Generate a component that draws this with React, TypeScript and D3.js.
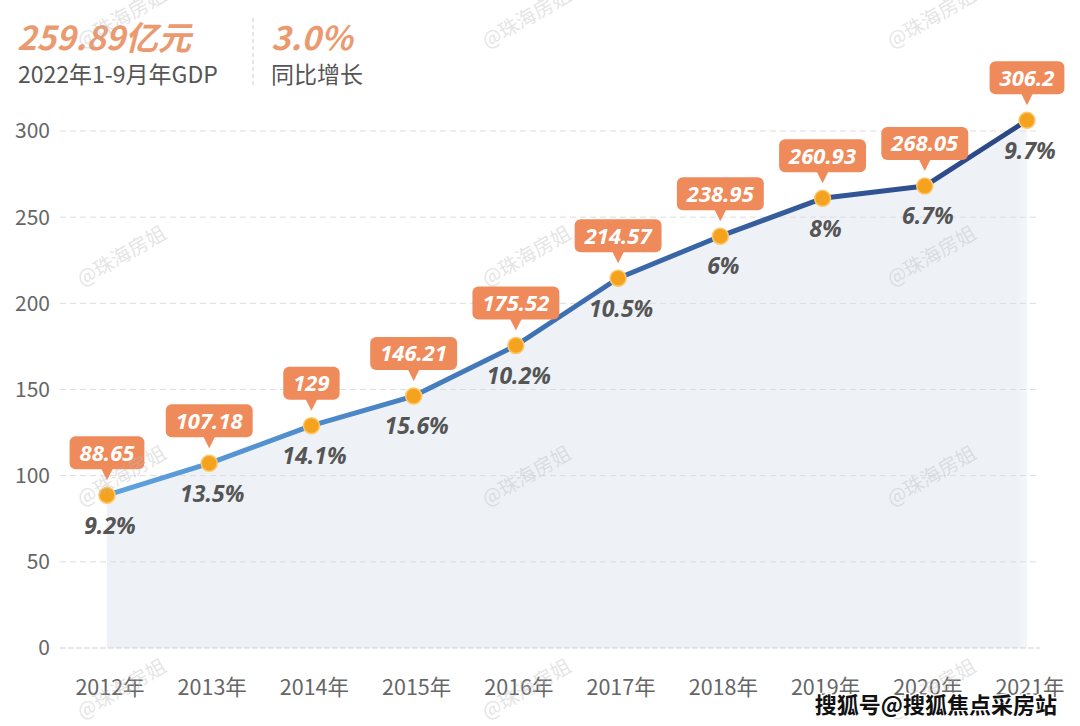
import React from "react";
import * as d3 from "d3";

const years = ["2012年", "2013年", "2014年", "2015年", "2016年", "2017年", "2018年", "2019年", "2020年", "2021年"];
const gdp = [88.65, 107.18, 129, 146.21, 175.52, 214.57, 238.95, 260.93, 268.05, 306.2];
const growth = ["9.2%", "13.5%", "14.1%", "15.6%", "10.2%", "10.5%", "6%", "8%", "6.7%", "9.7%"];
const yTicks = [0, 50, 100, 150, 200, 250, 300];
const watermarkX = [125, 530, 935];
const watermarkY = [24, 262, 482, 695];

const numFont = '"Noto Sans", "Open Sans", sans-serif';
const cjkFont = '"Noto Sans CJK SC", "Noto Sans", sans-serif';

// measure label text so the orange boxes fit their numbers
const measure = (() => {
  const ctx = document.createElement("canvas").getContext("2d");
  return (s: string) => {
    if (!ctx) return s.length * 13;
    ctx.font = `italic bold 22px ${numFont}`;
    return ctx.measureText(s).width;
  };
})();

const App = () => {
  const width = 1080;
  const height = 726;
  const margin = { left: 60, right: 40 };

  const x = d3.scalePoint().domain(years).range([107, 1027]);
  const y = d3.scaleLinear().domain([0, 300]).range([648, 131]);

  const data = years.map((yr, i) => ({ yr, v: gdp[i], g: growth[i] }));

  const line = d3
    .line<{ yr: string; v: number }>()
    .x((d) => x(d.yr)!)
    .y((d) => y(d.v));
  const area = d3
    .area<{ yr: string; v: number }>()
    .x((d) => x(d.yr)!)
    .y0(y(0))
    .y1((d) => y(d.v));

  return (
    <svg
      width={width}
      height={height}
      style={{ position: "absolute", left: 0, top: 0, background: "#fff" }}
    >
      <defs>
        <linearGradient id="lineGrad" gradientUnits="userSpaceOnUse" x1={107} x2={1027} y1={0} y2={0}>
          <stop offset="0" stopColor="#5fa3de" />
          <stop offset="0.45" stopColor="#3f73b6" />
          <stop offset="1" stopColor="#2b4584" />
        </linearGradient>
        <linearGradient id="areaGrad" gradientUnits="userSpaceOnUse" x1={107} x2={1045} y1={0} y2={0}>
          <stop offset="0" stopColor="#eef2f7" />
          <stop offset="0.97" stopColor="#eef2f7" />
          <stop offset="1" stopColor="#eef2f7" stopOpacity="0" />
        </linearGradient>
      </defs>

      {/* header */}
      <text x={17} y={50} fill="#eb9a70" fontSize={33} fontWeight="bold" fontStyle="italic" fontFamily={cjkFont}>
        259.89亿元
      </text>
      <text x={18} y={83} fill="#555" fontSize={23} fontFamily={cjkFont}>
        2022年1-9月年GDP
      </text>
      <line x1={253} x2={253} y1={18} y2={88} stroke="#ccc" strokeDasharray="4,3" />
      <text x={271} y={50} fill="#eb9a70" fontSize={33} fontWeight="bold" fontStyle="italic" fontFamily={cjkFont}>
        3.0%
      </text>
      <text x={271} y={83} fill="#555" fontSize={23} fontFamily={cjkFont}>
        同比增长
      </text>

      {/* area */}
      <path d={area(data)!} fill="url(#areaGrad)" />

      {/* grid + y axis */}
      {yTicks.map((t) => (
        <g key={t}>
          <line
            x1={margin.left}
            x2={width - margin.right}
            y1={y(t)}
            y2={y(t)}
            stroke={t === 0 ? "#cfcfcf" : "#dcdcdc"}
            strokeDasharray={t === 0 ? "6,2" : "6,4"}
          />
          <text x={50} y={y(t)} dy="0.35em" textAnchor="end" fill="#666" fontSize={21} fontFamily={cjkFont}>
            {t}
          </text>
        </g>
      ))}

      {/* x axis labels */}
      {years.map((yr) => (
        <text key={yr} x={x(yr)! + 3} y={695} textAnchor="middle" fill="#666" fontSize={21.5} fontFamily={cjkFont}>
          {yr}
        </text>
      ))}

      {/* line */}
      <path d={line(data)!} fill="none" stroke="url(#lineGrad)" strokeWidth={5} strokeLinejoin="round" />

      {/* points */}
      {data.map((d) => (
        <circle key={d.yr} cx={x(d.yr)} cy={y(d.v)} r={8} fill="#f5a21f" stroke="#fbc86a" strokeWidth={1.5} />
      ))}

      {/* value boxes */}
      {data.map((d) => {
        const cx = x(d.yr)!;
        const cy = y(d.v);
        const label = String(d.v);
        const w = measure(label) + 20;
        const h = 33;
        const bottom = cy - 26;
        return (
          <g key={d.yr}>
            <rect x={cx - w / 2} y={bottom - h} width={w} height={h} rx={6} fill="#ef8a5b" />
            <path d={`M${cx - 6},${bottom - 1}L${cx},${cy - 15}L${cx + 6},${bottom - 1}Z`} fill="#ef8a5b" />
            <text
              x={cx}
              y={bottom - h / 2}
              dy="0.36em"
              textAnchor="middle"
              fill="#fff"
              fontSize={22}
              fontWeight="bold"
              fontStyle="italic"
              fontFamily={numFont}
            >
              {label}
            </text>
          </g>
        );
      })}

      {/* growth labels */}
      {data.map((d) => (
        <text
          key={d.yr}
          x={x(d.yr)! + 3}
          y={y(d.v) + 30}
          dy="0.36em"
          textAnchor="middle"
          fill="#555"
          fontSize={23}
          fontWeight="bold"
          fontStyle="italic"
          fontFamily={numFont}
        >
          {d.g}
        </text>
      ))}

      {/* watermarks */}
      {watermarkY.map((wy) =>
        watermarkX.map((wx) => (
          <text
            key={`${wx}-${wy}`}
            x={wx}
            y={wy}
            textAnchor="middle"
            transform={`rotate(-30,${wx},${wy})`}
            fill="#bbb"
            fillOpacity={0.4}
            fontSize={20}
            fontFamily={cjkFont}
          >
            @珠海房姐
          </text>
        ))
      )}

      <text
        x={1057}
        y={713}
        textAnchor="end"
        fill="#111"
        stroke="#fff"
        strokeWidth={3}
        paintOrder="stroke"
        fontSize={22}
        fontWeight="bold"
        fontFamily={cjkFont}
      >
        搜狐号@搜狐焦点采房站
      </text>
    </svg>
  );
};

export default App;
